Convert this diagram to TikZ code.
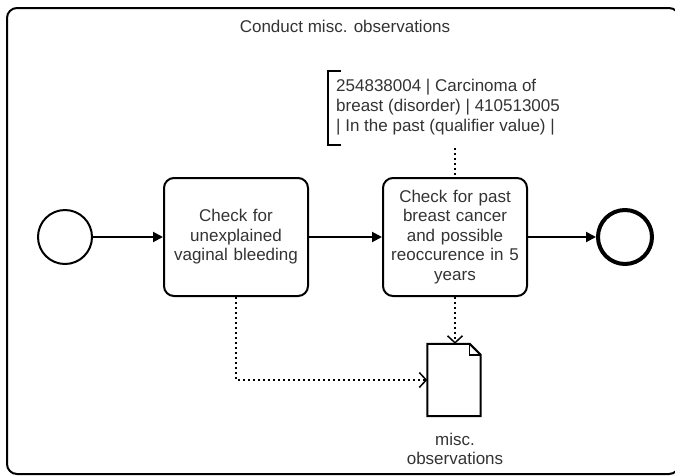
\documentclass[tikz,border=0pt]{standalone}
\usepackage{fontspec}
\setmainfont{Liberation Sans}
\usetikzlibrary{arrows.meta,calc}
\definecolor{txt}{HTML}{333333}
\tikzset{
  lbl/.style={font=\fontsize{17}{19.5}\selectfont, text=txt},
  task/.style={lbl, draw=black, line width=2pt, rounded corners=10pt, align=center,
    minimum width=144pt, minimum height=118pt, inner sep=2pt, text width=136pt},
  evt/.style={circle, draw=black, minimum size=54pt, inner sep=0pt},
  flow/.style={line width=2pt, -{Triangle[length=10pt,width=10pt]}},
  assoc/.style={line width=2pt, dash pattern=on 2pt off 3pt,
    -{Straight Barb[length=7pt,width=15pt,line width=1.5pt]}},
  annline/.style={line width=2pt, dash pattern=on 2pt off 3pt},
}
\begin{document}
\begin{tikzpicture}[x=1pt,y=-1pt]
\useasboundingbox (0,0) rectangle (675,475);
% pool / sub-process frame
\begin{scope}
  \clip (0,0) rectangle (675,475);
  \draw[line width=2pt, rounded corners=10pt] (7,8) rectangle (679,474);
\end{scope}
\node[lbl] (title) at (345,26) {Conduct misc. observations};

% events and tasks
\node[evt, line width=2pt] (start) at (65,237) {};
\node[task] (t1) at (236,237) {Check for\\unexplained\\vaginal bleeding};
\node[task] (t2) at (455,237) {Check for past\\breast cancer\\and possible\\reoccurence in 5\\years};
\node[evt, line width=4pt] (end) at (625,237) {};

\draw[flow] (start) -- (t1);
\draw[flow] (t1) -- (t2);
\draw[flow] (t2) -- (end);

% text annotation
\node[lbl, font=\fontsize{17}{20}\selectfont, anchor=west, align=left, inner sep=0pt] (ann) at (336,107)
  {254838004 | Carcinoma of\\breast (disorder) | 410513005\\| In the past (qualifier value) |};
\coordinate (bt) at (341,71);
\coordinate (bb) at (341,145);
\draw[line width=2pt] (bt) -- (328,71) -- (328,145) -- (bb);
\coordinate (annfoot) at (455,148);
\draw[annline] (annfoot) -- (t2.north);

% data object
\node[minimum width=53pt, minimum height=72pt, inner sep=0pt] (doc) at (454,380) {};
\draw[line width=2pt, line join=miter]
  (doc.north west) -- ($(doc.north east)+(-11,0)$) -- ($(doc.north east)+(0,11)$)
  -- (doc.south east) -- (doc.south west) -- cycle;
\draw[line width=1.5pt]
  ($(doc.north east)+(-11,0)$) -- ($(doc.north east)+(-11,11)$) -- ($(doc.north east)+(0,11)$);
\node[lbl, align=center] (doclbl) at (455,449) {misc.\\observations};

\draw[assoc] (t1.south) |- (doc.west);
\draw[assoc] (t2.south) -- (t2.south |- doc.north);
\end{tikzpicture}
\end{document}
